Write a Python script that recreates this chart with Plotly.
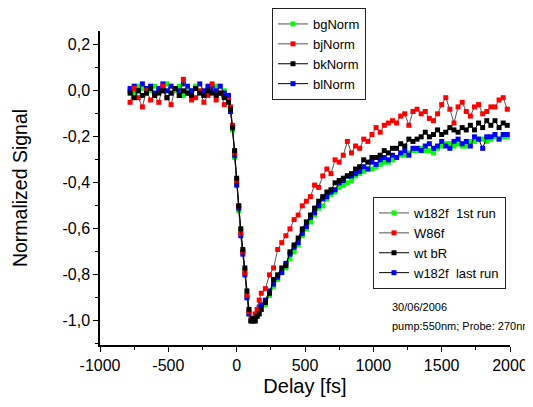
import plotly.graph_objects as go

# delay axis (fs)
delay = [-780, -750, -720, -690, -660, -630, -600, -570, -540, -510, -480, -450, -420,
         -390, -360, -330, -300, -270, -240, -210, -180, -150, -120, -90, -60,
         -45, -30, -15, 0, 15, 30, 45, 60, 75, 90, 105, 120, 135, 150, 165, 180,
         210, 240, 270, 300, 330, 360, 390, 420, 450, 480, 510, 540, 570, 600, 630,
         660, 690, 720, 750, 780, 810, 840, 870, 900, 930, 960, 990, 1020, 1050, 1080,
         1110, 1140, 1170, 1200, 1230, 1260, 1290, 1320, 1350, 1380, 1410, 1440, 1470,
         1500, 1530, 1560, 1590, 1620, 1650, 1680, 1710, 1740, 1770, 1800, 1830, 1860,
         1890, 1920, 1950, 1980]

bgNorm = [0.00, -0.01, 0.02, 0.01, -0.01, 0.00, 0.02, 0.00, 0.01, 0.03, -0.01, 0.00, 0.02,
          -0.02, 0.01, 0.00, 0.02, 0.00, -0.01, 0.01, 0.00, 0.02, -0.01, 0.00, -0.03,
          -0.08, -0.17, -0.29, -0.40, -0.52, -0.61, -0.70, -0.78, -0.89, -0.97, -1.00, -1.00,
          -0.99, -0.98, -0.96, -0.95,
          -0.93, -0.89, -0.85, -0.82, -0.79, -0.77, -0.73, -0.70, -0.67, -0.63, -0.60, -0.57,
          -0.54, -0.51, -0.50, -0.47, -0.45, -0.44, -0.42, -0.41, -0.40, -0.39, -0.37, -0.36,
          -0.35, -0.34, -0.34, -0.33, -0.32, -0.31, -0.31, -0.30, -0.29, -0.28, -0.28, -0.27,
          -0.26, -0.26, -0.25, -0.26, -0.26, -0.27, -0.25, -0.24, -0.23, -0.23, -0.24, -0.23,
          -0.24, -0.24, -0.22, -0.22, -0.21, -0.21, -0.22, -0.21, -0.20, -0.21, -0.20, -0.20]

bjNorm = [-0.05, 0.01, -0.03, -0.07, 0.00, -0.04, -0.02, -0.05, 0.02, -0.03, -0.06, 0.01, -0.02,
          0.05, -0.01, -0.04, -0.03, 0.00, -0.05, -0.02, 0.03, -0.04, -0.01, -0.06, -0.04,
          -0.07, -0.15, -0.27, -0.39, -0.50, -0.62, -0.70, -0.79, -0.89, -0.96, -0.99, -1.00,
          -0.97, -0.95, -0.91, -0.88,
          -0.86, -0.80, -0.77, -0.69, -0.66, -0.63, -0.60, -0.56, -0.54, -0.50, -0.48, -0.46,
          -0.41, -0.42, -0.37, -0.34, -0.36, -0.30, -0.31, -0.28, -0.22, -0.27, -0.24, -0.25,
          -0.21, -0.22, -0.19, -0.16, -0.18, -0.15, -0.14, -0.13, -0.14, -0.11, -0.10, -0.15,
          -0.09, -0.08, -0.10, -0.09, -0.12, -0.13, -0.10, -0.06, -0.03, -0.08, -0.14, -0.07,
          -0.05, -0.09, -0.11, -0.07, -0.06, -0.10, -0.09, -0.07, -0.07, -0.04, -0.03, -0.08]

bkNorm = [-0.01, -0.03, 0.00, -0.02, -0.01, 0.01, -0.02, -0.01, 0.00, -0.03, -0.01, 0.01, -0.02,
          0.00, -0.01, -0.02, 0.01, -0.01, -0.02, 0.00, -0.01, -0.02, -0.01, -0.03, -0.05,
          -0.08, -0.16, -0.26, -0.38, -0.50, -0.60, -0.69, -0.77, -0.87, -0.95, -1.00, -0.99,
          -1.00, -0.98, -0.97, -0.95,
          -0.92, -0.88, -0.82, -0.80, -0.77, -0.76, -0.70, -0.67, -0.64, -0.60, -0.57, -0.54,
          -0.51, -0.48, -0.46, -0.44, -0.43, -0.40, -0.39, -0.38, -0.37, -0.36, -0.34, -0.33,
          -0.30, -0.31, -0.29, -0.29, -0.28, -0.26, -0.27, -0.25, -0.25, -0.23, -0.24, -0.21,
          -0.22, -0.21, -0.20, -0.18, -0.20, -0.19, -0.17, -0.19, -0.18, -0.16, -0.17, -0.18,
          -0.16, -0.17, -0.15, -0.17, -0.14, -0.16, -0.13, -0.15, -0.13, -0.16, -0.14, -0.15]

blNorm = [0.01, 0.02, 0.00, 0.03, 0.01, 0.02, -0.01, 0.01, 0.03, 0.00, 0.02, 0.01, 0.00,
          0.03, 0.02, 0.00, 0.01, 0.03, 0.00, 0.02, 0.01, 0.00, 0.02, -0.01, -0.02,
          -0.09, -0.16, -0.28, -0.41, -0.51, -0.63, -0.71, -0.80, -0.90, -0.97, -1.00, -1.00,
          -1.00, -0.97, -0.94, -0.93,
          -0.91, -0.87, -0.84, -0.81, -0.79, -0.75, -0.71, -0.68, -0.66, -0.62, -0.59, -0.55,
          -0.53, -0.50, -0.47, -0.46, -0.44, -0.43, -0.40, -0.39, -0.37, -0.37, -0.36, -0.35,
          -0.33, -0.34, -0.31, -0.32, -0.30, -0.29, -0.30, -0.28, -0.29, -0.27, -0.26, -0.28,
          -0.25, -0.25, -0.26, -0.24, -0.23, -0.25, -0.24, -0.22, -0.24, -0.25, -0.22, -0.21,
          -0.23, -0.22, -0.24, -0.20, -0.21, -0.25, -0.20, -0.20, -0.19, -0.21, -0.19, -0.19]

names_1 = ["bgNorm", "bjNorm", "bkNorm", "blNorm"]
names_2 = ["w182f\u00a0\u00a01st run", "W86f", "wt bR", "w182f\u00a0\u00a0last run"]
marker_colors = ["#00ff00", "#ff0000", "#000000", "#0000ff"]
line_colors = ["#555555", "#555555", "#000000", "#000000"]
note_lines = ["30/06/2006", "pump:550nm; Probe: 270nm"]

x_tickvals = [-1000, -500, 0, 500, 1000, 1500, 2000]
x_ticktext = ["-1000", "-500", "0", "500", "1000", "1500", "2000"]
y_tickvals = [0.2, 0.0, -0.2, -0.4, -0.6, -0.8, -1.0]
y_ticktext = ["0,2", "0,0", "-0,2", "-0,4", "-0,6", "-0,8", "-1,0"]

series = [bgNorm, bjNorm, bkNorm, blNorm]

# the page body has an 8px margin, so the figure is a bit smaller than the window
W, H = 525, 399

fig = go.Figure()

# draw order: green, blue, red, black on top
for i in [0, 3, 1, 2]:
    fig.add_trace(go.Scatter(
        x=delay, y=series[i], mode="lines+markers", name=names_1[i],
        line=dict(color=line_colors[i], width=1),
        marker=dict(symbol="square", size=5, color=marker_colors[i], line=dict(width=0)),
        legend="legend", legendrank=i + 1,
    ))

# second legend box (same styles)
for i in range(4):
    fig.add_trace(go.Scatter(
        x=[None], y=[None], mode="lines+markers", name=names_2[i],
        line=dict(color=line_colors[i], width=1),
        marker=dict(symbol="square", size=5, color=marker_colors[i], line=dict(width=0)),
        legend="legend2", legendrank=i + 1,
    ))

legend_style = dict(
    xref="container", yref="container",
    xanchor="left", yanchor="top", bgcolor="white", bordercolor="#222222", borderwidth=1,
    font=dict(family="Liberation Sans, Arial", size=13, color="black"),
    itemwidth=30, tracegroupgap=0,
)

fig.update_layout(
    width=W, height=H,
    paper_bgcolor="white", plot_bgcolor="white",
    margin=dict(l=92, r=23, t=23, b=62, autoexpand=False),
    font=dict(family="Liberation Sans, Arial", color="black"),
    showlegend=True,
    legend=dict(x=264 / W, y=1.0, **legend_style),
    legend2=dict(x=365 / W, y=1 - 189 / H, **legend_style),
    xaxis=dict(
        range=[-1000, 2000], showgrid=False, zeroline=False, automargin=False,
        showline=True, linecolor="black", linewidth=1.5,
        ticks="outside", ticklen=5, tickwidth=1, tickcolor="black",
        tickmode="array", tickvals=x_tickvals, ticktext=x_ticktext,
        tickfont=dict(size=16),
        minor=dict(tickmode="linear", tick0=-1000, dtick=250, ticks="outside",
                   ticklen=3, tickcolor="black"),
        title=dict(text="Delay [fs]", font=dict(size=20), standoff=6),
    ),
    yaxis=dict(
        range=[-1.105, 0.26], showgrid=False, zeroline=False, automargin=False,
        showline=True, linecolor="black", linewidth=1.5,
        ticks="outside", ticklen=5, tickwidth=1, tickcolor="black",
        tickmode="array", tickvals=y_tickvals, ticktext=y_ticktext,
        tickfont=dict(size=16),
        minor=dict(tickmode="linear", tick0=0, dtick=0.1, ticks="outside",
                   ticklen=3, tickcolor="black"),
        title=dict(text="Normalized Signal", font=dict(size=19.5), standoff=30),
    ),
)

# date / conditions note, one annotation per line
for txt, ypos in zip(note_lines, [0.121, 0.0605]):
    fig.add_annotation(
        x=(390 - 100) / 410, y=ypos, xref="paper", yref="paper",
        xanchor="left", yanchor="middle", text=txt, showarrow=False,
        font=dict(size=11, color="black"),
    )

fig.write_html("out.html")
